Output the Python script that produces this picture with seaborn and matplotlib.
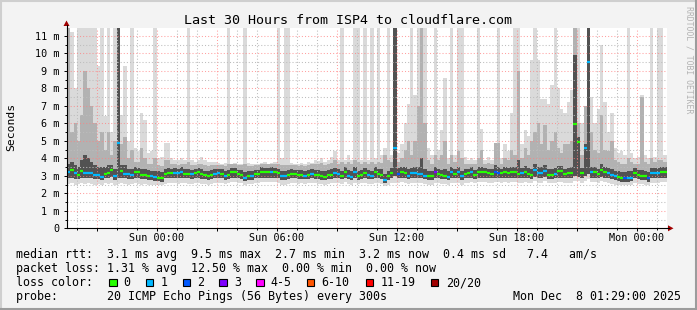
import numpy as np
import pandas as pd
import matplotlib
matplotlib.use("Agg")
import matplotlib.pyplot as plt
import matplotlib.dates as mdates
from matplotlib.ticker import MultipleLocator, FuncFormatter
from matplotlib.patches import Rectangle, Polygon
from matplotlib.lines import Line2D
from matplotlib.transforms import IdentityTransform
import seaborn as sns

# ---------------------------------------------------------------- data
TITLE = "Last 30 Hours from ISP4 to cloudflare.com"
AXIS_START = "2025-12-06 19:29"
AXIS_END = "2025-12-08 01:29"
SAMPLE_START = "2025-12-06 19:30"
STEP = "10min"

# median RTT per sample (ms)
median_ms = [
    3.24, 3.35, 3.15, 3.02, 3.28, 3.18, 3.18, 3.18, 3.05, 3.05,
    2.95, 3.12, 3.15, 3.35, 2.98, 4.90, 3.25, 3.10, 3.08, 3.02,
    3.22, 3.20, 3.05, 3.05, 3.00, 2.97, 2.95, 2.88, 2.85, 3.12,
    3.14, 3.14, 3.18, 3.16, 3.24, 3.10, 3.12, 3.08, 3.15, 3.22,
    3.08, 3.02, 3.00, 3.05, 3.10, 3.14, 3.12, 2.97, 3.05, 3.20,
    3.20, 3.08, 3.05, 2.88, 3.00, 3.00, 3.08, 3.08, 3.24, 3.22,
    3.22, 3.24, 3.20, 3.15, 2.97, 2.97, 3.05, 3.10, 3.08, 3.05,
    3.05, 3.00, 3.05, 3.10, 3.05, 3.02, 2.97, 2.95, 3.05, 3.05,
    3.14, 3.10, 3.00, 3.22, 3.00, 2.95, 3.22, 2.97, 3.05, 3.14,
    3.05, 3.00, 3.22, 3.10, 3.05, 2.75, 2.97, 3.15, 4.60, 3.12,
    3.22, 3.15, 3.00, 3.14, 3.14, 3.10, 3.08, 3.00, 2.97, 2.97,
    3.22, 3.08, 3.02, 3.00, 2.95, 3.22, 3.10, 3.22, 2.97, 3.12,
    3.14, 3.24, 3.05, 3.24, 3.20, 3.20, 3.14, 3.12, 3.20, 3.18,
    3.14, 3.24, 3.14, 3.22, 3.24, 3.10, 3.14, 3.24, 3.12, 3.05,
    3.33, 3.14, 3.14, 3.30, 3.05, 3.05, 3.10, 3.26, 3.26, 3.10,
    3.14, 3.14, 5.95, 4.95, 3.14, 4.60, 9.50, 3.22, 3.20, 3.10,
    3.33, 3.20, 3.15, 3.05, 2.97, 2.95, 2.88, 2.86, 2.86, 2.90,
    3.14, 3.05, 3.00, 2.97, 2.88, 3.14, 3.14, 3.14, 3.20, 3.24,
]

# lost pings out of 20 per sample
loss = [
    1, 0, 1, 0, 0, 1, 1, 1, 1, 1,
    1, 0, 0, 0, 1, 1, 0, 1, 1, 1,
    0, 0, 0, 0, 0, 1, 1, 0, 0, 0,
    0, 0, 1, 1, 1, 0, 0, 1, 0, 0,
    0, 0, 0, 0, 1, 1, 0, 1, 0, 0,
    0, 0, 0, 1, 0, 1, 0, 0, 0, 0,
    0, 1, 0, 0, 1, 1, 0, 0, 0, 0,
    0, 1, 0, 1, 0, 0, 0, 0, 0, 0,
    1, 1, 0, 0, 1, 1, 1, 0, 0, 0,
    1, 1, 0, 0, 0, 1, 0, 0, 1, 2,
    0, 0, 1, 1, 1, 1, 1, 1, 0, 0,
    3, 0, 0, 0, 1, 1, 0, 1, 1, 0,
    0, 1, 0, 0, 0, 0, 0, 0, 2, 2,
    0, 0, 0, 0, 0, 0, 1, 0, 0, 0,
    1, 1, 1, 1, 0, 0, 1, 0, 0, 0,
    0, 0, 0, 0, 0, 1, 1, 1, 0, 0,
    0, 0, 1, 1, 1, 0, 0, 2, 1, 1,
    0, 0, 0, 0, 2, 1, 1, 1, 0, 0,
]

# smoke: fastest ping per sample (ms)
ping_min = [
    2.55, 2.60, 2.50, 2.55, 2.60, 2.55, 2.60, 2.55, 2.50, 2.55,
    2.50, 2.60, 2.55, 2.60, 2.50, 2.55, 2.60, 2.55, 2.50, 2.55,
    2.60, 2.55, 2.50, 2.55, 2.50, 2.50, 2.45, 2.45, 2.45, 2.55,
    2.60, 2.60, 2.60, 2.55, 2.60, 2.60, 2.55, 2.55, 2.60, 2.60,
    2.55, 2.55, 2.50, 2.55, 2.60, 2.60, 2.60, 2.55, 2.60, 2.65,
    2.65, 2.60, 2.60, 2.50, 2.55, 2.55, 2.60, 2.60, 2.65, 2.65,
    2.65, 2.65, 2.65, 2.60, 2.50, 2.50, 2.55, 2.60, 2.60, 2.55,
    2.60, 2.55, 2.60, 2.60, 2.60, 2.55, 2.55, 2.50, 2.55, 2.60,
    2.60, 2.60, 2.55, 2.65, 2.55, 2.50, 2.60, 2.55, 2.60, 2.60,
    2.55, 2.55, 2.60, 2.60, 2.55, 2.40, 2.50, 2.60, 2.60, 2.60,
    2.65, 2.60, 2.55, 2.60, 2.60, 2.60, 2.60, 2.55, 2.50, 2.50,
    2.60, 2.60, 2.55, 2.55, 2.50, 2.60, 2.60, 2.60, 2.50, 2.60,
    2.60, 2.65, 2.60, 2.65, 2.65, 2.65, 2.60, 2.60, 2.65, 2.65,
    2.60, 2.65, 2.60, 2.65, 2.65, 2.60, 2.60, 2.65, 2.60, 2.60,
    2.70, 2.60, 2.60, 2.70, 2.60, 2.60, 2.60, 2.65, 2.65, 2.60,
    2.60, 2.60, 2.70, 2.70, 2.60, 2.70, 2.80, 2.65, 2.65, 2.60,
    2.70, 2.65, 2.60, 2.55, 2.50, 2.50, 2.45, 2.45, 2.45, 2.50,
    2.60, 2.55, 2.55, 2.50, 2.45, 2.60, 2.60, 2.60, 2.65, 2.65,
]

# smoke: lower edge of the dense core (ms)
ping_lo = [
    2.85, 2.90, 2.80, 2.80, 2.90, 2.85, 2.85, 2.85, 2.80, 2.80,
    2.75, 2.85, 2.85, 2.95, 2.75, 2.90, 2.90, 2.85, 2.80, 2.80,
    2.90, 2.90, 2.80, 2.80, 2.75, 2.75, 2.70, 2.70, 2.65, 2.85,
    2.85, 2.85, 2.90, 2.85, 2.90, 2.85, 2.85, 2.80, 2.85, 2.90,
    2.80, 2.80, 2.75, 2.80, 2.85, 2.85, 2.85, 2.75, 2.80, 2.90,
    2.90, 2.85, 2.80, 2.70, 2.75, 2.75, 2.85, 2.85, 2.90, 2.90,
    2.90, 2.90, 2.90, 2.85, 2.75, 2.75, 2.80, 2.85, 2.85, 2.80,
    2.80, 2.80, 2.80, 2.85, 2.80, 2.80, 2.75, 2.75, 2.80, 2.80,
    2.85, 2.85, 2.80, 2.90, 2.80, 2.75, 2.90, 2.75, 2.80, 2.85,
    2.80, 2.80, 2.90, 2.85, 2.80, 2.60, 2.75, 2.85, 3.00, 2.85,
    2.90, 2.85, 2.80, 2.85, 2.85, 2.85, 2.85, 2.80, 2.75, 2.75,
    2.90, 2.85, 2.80, 2.80, 2.75, 2.90, 2.85, 2.90, 2.75, 2.85,
    2.85, 2.90, 2.80, 2.90, 2.90, 2.90, 2.85, 2.85, 2.90, 2.90,
    2.85, 2.90, 2.85, 2.90, 2.90, 2.85, 2.85, 2.90, 2.85, 2.80,
    2.95, 2.85, 2.85, 2.95, 2.80, 2.80, 2.85, 2.90, 2.90, 2.85,
    2.85, 2.85, 3.00, 2.95, 2.85, 3.00, 3.10, 2.90, 2.90, 2.85,
    2.95, 2.90, 2.85, 2.80, 2.75, 2.70, 2.65, 2.65, 2.65, 2.70,
    2.85, 2.80, 2.75, 2.75, 2.65, 2.85, 2.85, 2.85, 2.90, 2.90,
]

# smoke: upper edge of the dense core (ms)
ping_hi = [
    3.70, 3.80, 3.60, 3.50, 3.90, 4.20, 4.00, 3.80, 3.60, 3.50,
    3.50, 3.50, 3.60, 3.60, 3.40, 12.0, 3.60, 3.60, 3.40, 3.40,
    3.50, 3.45, 3.40, 3.40, 3.35, 3.30, 3.30, 3.25, 3.20, 3.40,
    3.45, 3.40, 3.45, 3.40, 3.50, 3.40, 3.40, 3.35, 3.40, 3.45,
    3.40, 3.30, 3.30, 3.35, 3.40, 3.40, 3.40, 3.30, 3.35, 3.45,
    3.45, 3.35, 3.35, 3.20, 3.30, 3.30, 3.35, 3.35, 3.50, 3.45,
    3.45, 3.50, 3.45, 3.40, 3.30, 3.30, 3.35, 3.40, 3.35, 3.35,
    3.35, 3.30, 3.35, 3.40, 3.35, 3.35, 3.30, 3.30, 3.35, 3.40,
    3.45, 3.40, 3.30, 3.50, 3.35, 3.30, 3.50, 3.30, 3.35, 3.45,
    3.35, 3.30, 3.50, 3.40, 3.40, 3.10, 3.30, 3.45, 12.0, 3.45,
    3.50, 3.50, 3.40, 3.45, 3.50, 3.50, 4.00, 3.40, 3.30, 3.30,
    3.50, 3.40, 3.35, 3.40, 3.30, 3.50, 3.40, 3.50, 3.30, 3.40,
    3.40, 3.50, 3.35, 3.50, 3.50, 3.45, 3.40, 3.40, 3.60, 3.50,
    3.40, 3.50, 3.45, 3.50, 3.50, 3.90, 3.45, 3.55, 3.45, 3.40,
    3.70, 3.50, 3.50, 3.60, 3.40, 3.40, 3.45, 3.55, 3.55, 3.40,
    3.45, 3.50, 9.90, 5.20, 3.45, 4.80, 12.0, 3.50, 3.50, 3.40,
    3.70, 3.50, 3.45, 3.40, 3.30, 3.30, 3.20, 3.20, 3.25, 3.25,
    3.45, 3.35, 3.35, 3.30, 3.20, 3.45, 3.45, 3.45, 3.50, 3.50,
]

# smoke: upper edge of the medium layer (ms)
ping_mid = [
    12.0, 5.50, 6.00, 5.00, 6.50, 9.00, 8.00, 7.00, 6.00, 5.00,
    5.50, 4.50, 5.50, 4.20, 5.00, 12.0, 4.80, 5.20, 4.00, 4.50,
    3.80, 3.80, 4.60, 4.00, 3.70, 3.70, 4.00, 3.60, 3.55, 3.90,
    3.90, 3.70, 3.65, 3.60, 3.70, 3.65, 3.80, 3.60, 3.60, 3.65,
    3.70, 3.60, 3.55, 3.60, 3.60, 3.60, 3.60, 3.55, 3.70, 3.65,
    3.65, 3.60, 3.60, 3.70, 3.55, 3.55, 3.60, 3.60, 3.65, 3.65,
    3.65, 3.70, 3.65, 3.70, 3.60, 3.60, 3.60, 3.60, 3.60, 3.55,
    3.60, 3.55, 3.60, 3.65, 3.70, 3.65, 3.75, 3.60, 3.70, 3.75,
    3.90, 3.70, 3.80, 3.70, 3.80, 3.65, 3.90, 3.80, 3.65, 3.80,
    3.65, 3.80, 3.70, 3.80, 3.75, 4.20, 3.90, 3.80, 12.0, 3.80,
    4.00, 4.50, 5.00, 4.20, 5.00, 7.00, 12.0, 6.00, 3.90, 3.70,
    4.20, 3.90, 4.20, 5.00, 3.70, 4.20, 3.80, 4.40, 4.00, 3.70,
    3.65, 3.70, 3.65, 4.00, 4.50, 3.70, 3.75, 3.70, 4.90, 4.90,
    3.70, 4.00, 3.90, 4.50, 4.20, 9.00, 4.00, 4.60, 4.20, 5.00,
    5.50, 6.00, 4.80, 5.90, 4.50, 5.00, 5.50, 4.60, 4.30, 4.80,
    4.80, 5.00, 12.0, 6.00, 4.20, 7.00, 12.0, 5.50, 4.50, 4.30,
    6.50, 4.50, 4.40, 5.00, 3.90, 3.80, 3.70, 3.70, 4.00, 3.80,
    3.70, 3.70, 7.50, 3.80, 3.65, 4.00, 3.80, 3.90, 3.90, 3.80,
]

# smoke: slowest ping per sample (ms), 12 = beyond the top of the chart
ping_max = [
    12.0, 11.2, 8.00, 12.0, 12.0, 12.0, 12.0, 12.0, 12.0, 9.30,
    12.0, 6.40, 12.0, 5.50, 12.0, 12.0, 6.50, 9.30, 5.00, 12.0,
    4.60, 4.40, 6.60, 6.20, 4.30, 4.40, 12.0, 4.00, 4.10, 4.90,
    4.90, 4.00, 3.90, 3.90, 4.00, 3.90, 12.0, 3.90, 3.80, 3.90,
    4.10, 3.90, 3.80, 3.80, 3.80, 3.75, 3.70, 3.75, 12.0, 3.70,
    3.75, 3.70, 3.70, 12.0, 3.75, 3.70, 3.70, 3.70, 3.75, 3.80,
    3.70, 3.75, 3.80, 12.0, 4.00, 12.0, 12.0, 3.75, 3.70, 3.70,
    3.75, 3.70, 3.80, 3.75, 3.90, 3.85, 4.00, 3.80, 3.90, 4.10,
    4.40, 3.90, 12.0, 3.90, 4.20, 3.90, 12.0, 12.0, 3.90, 12.0,
    3.90, 12.0, 4.00, 12.0, 4.20, 4.60, 12.0, 4.20, 12.0, 4.30,
    4.80, 6.00, 7.10, 12.0, 7.60, 12.0, 12.0, 12.0, 4.60, 4.20,
    12.0, 4.50, 5.60, 8.60, 4.00, 12.0, 4.20, 12.0, 12.0, 4.10,
    3.90, 4.00, 3.90, 12.0, 5.70, 3.90, 4.10, 3.90, 4.40, 12.0,
    4.00, 4.80, 4.40, 6.60, 12.0, 12.0, 4.80, 5.60, 5.30, 9.60,
    12.0, 9.60, 7.40, 7.40, 7.10, 8.20, 12.0, 8.00, 6.80, 6.60,
    7.20, 7.90, 12.0, 12.0, 6.00, 7.00, 12.0, 7.50, 6.00, 6.80,
    10.5, 7.20, 5.50, 6.60, 4.60, 4.30, 4.40, 4.20, 12.0, 4.30,
    4.00, 4.10, 7.60, 4.20, 4.00, 12.0, 4.10, 12.0, 12.0, 4.20,
]

loss_labels = ["0", "1", "2", "3", "4-5", "6-10", "11-19", "20/20"]
loss_colors = ["#26ff00", "#00b8ff", "#0059ff", "#7e00ff",
               "#ff00ff", "#ff5500", "#ff0000", "#a10000"]

stat_lines = [
    "median rtt:  3.1 ms avg  9.5 ms max  2.7 ms min  3.2 ms now  0.4 ms sd   7.4   am/s",
    "packet loss: 1.31 % avg  12.50 % max  0.00 % min  0.00 % now",
    "loss color:",
    "probe:       20 ICMP Echo Pings (56 Bytes) every 300s",
]
stamp = "Mon Dec  8 01:29:00 2025"
side_text = "RRDTOOL / TOBI OETIKER"

# ---------------------------------------------------------------- style
sns.set_theme(style="white")
plt.rcParams["font.family"] = ["DejaVu Sans Mono", "DejaVu Sans"]
plt.rcParams["axes.unicode_minus"] = False

W, H = 697, 310
BG = "#f3f3f3"
fig = plt.figure(figsize=(W / 100, H / 100), dpi=100, facecolor=BG)
AX_L, AX_R, AX_T, AX_B = 66.5, 666.5, 28.0, 228.3
ax = fig.add_axes([AX_L / W, 1 - AX_B / H, (AX_R - AX_L) / W, (AX_B - AX_T) / H])
ax.set_facecolor("white")

idt = IdentityTransform()


def fx(x):
    return x


def fy(y):
    return H - y


# ---------------------------------------------------------------- smoke
times = pd.date_range(SAMPLE_START, periods=len(median_ms), freq=STEP)
xs = mdates.date2num(times.values)
w = xs[1] - xs[0]
xe = np.append(xs, xs[-1] + w)


def ext(a):
    a = np.asarray(a, dtype=float)
    return np.append(a, a[-1])


ax.fill_between(xe, ext(ping_min), ext(ping_max), step="post",
                color="#dadada", lw=0, zorder=1)
ax.fill_between(xe, ext(ping_lo), ext(ping_mid), step="post",
                color="#b2b2b2", lw=0, zorder=1.2)
ax.fill_between(xe, ext(ping_lo), ext(ping_hi), step="post",
                color="#525252", lw=0, zorder=1.4)


def loss_bucket(l):
    if l <= 3:
        return l
    if l <= 5:
        return 4
    if l <= 10:
        return 5
    if l <= 19:
        return 6
    return 7


seg_colors = [loss_colors[loss_bucket(l)] for l in loss]
ax.hlines(median_ms, xs, xs + w, colors=seg_colors, linewidth=1.6, zorder=4)

# ---------------------------------------------------------------- axes
ax.set_xlim(mdates.date2num(pd.Timestamp(AXIS_START).to_datetime64()),
            mdates.date2num(pd.Timestamp(AXIS_END).to_datetime64()))
ax.set_ylim(0, 11.45)

ax.xaxis.set_major_locator(mdates.HourLocator(byhour=range(0, 24, 3)))
ax.xaxis.set_minor_locator(mdates.HourLocator())


def xfmt(v, pos=None):
    d = mdates.num2date(v)
    return d.strftime("%a %H:%M") if d.hour % 6 == 0 else ""


ax.xaxis.set_major_formatter(FuncFormatter(xfmt))
ax.yaxis.set_major_locator(MultipleLocator(1))
ax.yaxis.set_minor_locator(MultipleLocator(0.5))
ax.yaxis.set_major_formatter(FuncFormatter(lambda v, p: "0" if abs(v) < 1e-9 else f"{int(round(v))} m"))

ax.grid(True, which="major", color="#ff8080", alpha=0.75,
        linestyle=(0, (1, 2)), linewidth=0.75)
ax.grid(True, which="minor", color="#bdbdbd",
        linestyle=(0, (1, 2)), linewidth=0.75)
ax.set_axisbelow(False)

for s in ["top", "right"]:
    ax.spines[s].set_visible(False)
for s in ["left", "bottom"]:
    ax.spines[s].set_color("black")
    ax.spines[s].set_linewidth(0.8)
    ax.spines[s].set_zorder(5)

ax.tick_params(axis="y", which="major", direction="out", length=2.2, width=0.7,
               color="black", labelsize=7.3, pad=2.8, left=True)
ax.tick_params(axis="y", which="minor", direction="out", length=1.4, width=0.7,
               color="black", left=True)
ax.tick_params(axis="x", which="major", direction="out", length=2.2, width=0.7,
               color="black", labelsize=7.3, pad=1.2, bottom=True)
ax.tick_params(axis="x", which="minor", direction="out", length=1.4, width=0.7,
               color="black", bottom=True)
for lab in ax.get_xticklabels() + ax.get_yticklabels():
    lab.set_color("black")

# axis extensions and arrows
arrow_c = "#a10000"
fig.add_artist(Line2D([AX_R, 669], [fy(AX_B), fy(AX_B)], color="black",
                      lw=0.8, transform=idt))
fig.add_artist(Line2D([AX_L, AX_L], [fy(AX_T), fy(24.5)], color="black",
                      lw=0.8, transform=idt))
fig.add_artist(Polygon([[668, fy(AX_B - 3)], [668, fy(AX_B + 3)], [673.5, fy(AX_B)]],
                       closed=True, color=arrow_c, lw=0, transform=idt))
fig.add_artist(Polygon([[AX_L - 3, fy(26)], [AX_L + 3, fy(26)], [AX_L, fy(20.5)]],
                       closed=True, color=arrow_c, lw=0, transform=idt))

# ---------------------------------------------------------------- texts
fig.text(fx(348.5), fy(24), TITLE, fontsize=9.6, ha="center", va="baseline",
         color="black", transform=idt)
fig.text(fx(11), fy(126.5), "Seconds", fontsize=8.2, rotation=90, ha="center",
         va="center", color="black", transform=idt)
fig.text(fx(688.5), fy(60), side_text, fontsize=5.9, rotation=270, ha="center",
         va="center", color="#b3b3b3", transform=idt)

row_base = [258.3, 272.2, 286.1, 300.0]
for line, yb in zip(stat_lines, row_base):
    fig.text(fx(16), fy(yb), line, fontsize=8.42, ha="left", va="baseline",
             color="black", transform=idt)
fig.text(fx(513.3), fy(row_base[3]), stamp, fontsize=8.42, ha="left",
         va="baseline", color="black", transform=idt)

sq_x = [109.3, 145.7, 182.7, 219.3, 256.0, 306.7, 365.7, 430.7]
lab_x = [123.3, 160.7, 197.3, 234.3, 270.7, 321.7, 380.7, 445.7]
for sx, lx, c, t in zip(sq_x, lab_x, loss_colors, loss_labels):
    fig.add_artist(Rectangle((sx, fy(286.2)), 7.6, 7.6, facecolor=c,
                             edgecolor="black", lw=0.8, transform=idt))
    fig.text(fx(lx), fy(row_base[2]), t, fontsize=8.42, ha="left",
             va="baseline", color="black", transform=idt)

# frame
fig.add_artist(Line2D([0, W], [H - 1, H - 1], color="#cfcfcf", lw=1.5, transform=idt))
fig.add_artist(Line2D([1, 1], [0, H], color="#cfcfcf", lw=1.5, transform=idt))
fig.add_artist(Line2D([0, W], [1, 1], color="#9c9c9c", lw=1.5, transform=idt))
fig.add_artist(Line2D([W - 1, W - 1], [0, H], color="#9c9c9c", lw=1.5, transform=idt))

fig.savefig("out.png", dpi=100, facecolor=BG)
